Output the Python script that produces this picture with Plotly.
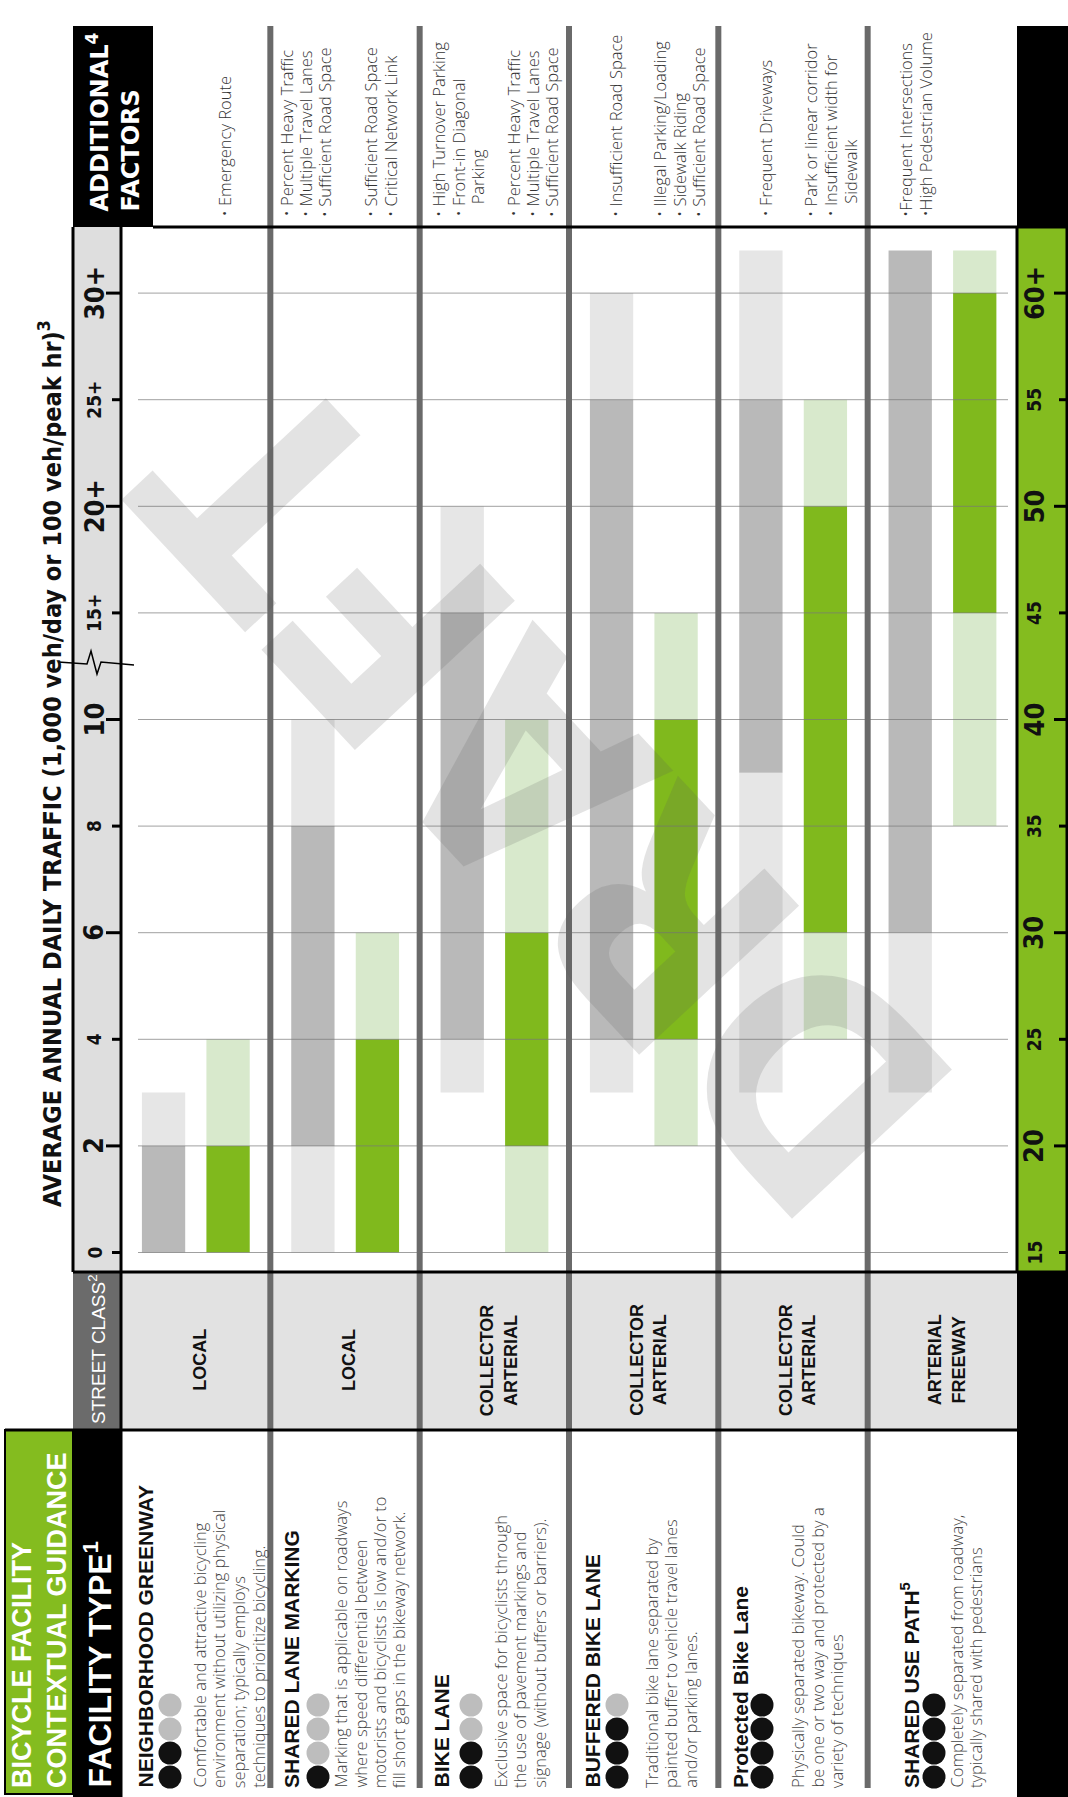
import plotly.graph_objects as go

W, H = 1068, 1797

# ---------------------------------------------------------------- data
FACILITIES = ["Neighborhood Greenway", "Shared Lane Marking", "Bike Lane",
              "Buffered Bike Lane", "Protected Bike Lane", "Shared Use Path"]

# Average annual daily traffic (1,000 veh/day): preferred range + extensions
ADT_LOW = [0, 2, 4, 4, 9, 6]
ADT_HIGH = [2, 8, 15, 25, 25, 32]
ADT_LOW_EXT = [None, 0, 3, 3, 3, 3]
ADT_HIGH_EXT = [3, 10, 20, 30, 32, None]

# Posted speed (mph): preferred range + extensions
SPEED_LOW = [15, 15, 20, 25, 30, 45]
SPEED_HIGH = [20, 25, 30, 40, 50, 60]
SPEED_LOW_EXT = [None, None, 15, 20, 25, 35]
SPEED_HIGH_EXT = [25, 30, 40, 45, 55, 62]

ADT_TICKS = [0, 2, 4, 6, 8, 10, 15, 20, 25, 30]
ADT_TICK_TEXT = ["0", "2", "4", "6", "8", "10", "15+", "20+", "25+", "30+"]
SPEED_TICKS = [15, 20, 25, 30, 35, 40, 45, 50, 55, 60]
SPEED_TICK_TEXT = ["15", "20", "25", "30", "35", "40", "45", "50", "55", "60+"]
MAJOR_ADT = [2, 6, 10, 20, 30]
MAJOR_SPEED = [20, 30, 40, 50, 60]

STREET_CLASS = ["LOCAL", "LOCAL", "COLLECTOR<br>ARTERIAL", "COLLECTOR<br>ARTERIAL",
                "COLLECTOR<br>ARTERIAL", "ARTERIAL<br>FREEWAY"]
RATING = [2, 1, 2, 3, 4, 4]
NAMES = ["NEIGHBORHOOD GREENWAY", "SHARED LANE MARKING", "BIKE LANE",
         "BUFFERED BIKE LANE", "Protected Bike Lane", "SHARED USE PATH<sup>5</sup>"]
DESCRIPTIONS = [
    ["Comfortable and attractive bicycling", "environment without utilizing physical",
     "separation; typically employs", "techniques to prioritize bicycling."],
    ["Marking that is applicable on roadways", "where speed differential between",
     "motorists and bicyclists is low and/or to", "fill short gaps in the bikeway network."],
    ["Exclusive space for bicyclists through", "the use of pavement markings and",
     "signage (without buffers or barriers)."],
    ["Traditional bike lane separated by", "painted buffer to vehicle travel lanes",
     "and/or parking lanes."],
    ["Physically separated bikeway. Could", "be one or two way and protected by a",
     "variety of techniques"],
    ["Completely separated from roadway,", "typically shared with pedestrians"],
]
NB = "\u00a0\u00a0\u00a0"
FACTORS = [
    [["• Emergency Route"]],
    [["• Percent Heavy Traffic", "• Multiple Travel Lanes", "• Sufficient Road Space"],
     ["• Sufficient Road Space", "• Critical Network Link"]],
    [["• High Turnover Parking", "• Front-in Diagonal", NB + "Parking"],
     ["• Percent Heavy Traffic", "• Multiple Travel Lanes", "• Sufficient Road Space"]],
    [["• Insufficient Road Space"],
     ["• Illegal Parking/Loading", "• Sidewalk Riding", "• Sufficient Road Space"]],
    [["• Frequent Driveways"],
     ["• Park or linear corridor", "• Insufficient width for", NB + "Sidewalk"]],
    [["•Frequent Intersections", "•High Pedestrian Volume"]],
]

# ---------------------------------------------------------------- styling
GRAY_DARK = "#b9b9b9"
GRAY_LIGHT = "#e6e6e6"
GREEN_DARK = "#80b91d"
GREEN_LIGHT = "#d8e9cc"
GREEN_HEAD = "#84bc1f"
PANEL = "#e2e2e2"
AXIS_PANEL = "#dedede"
SEP = "#6a6a6a"

NARROW = "Liberation Sans Narrow, Arial Narrow, DejaVu Sans Condensed, sans-serif"
BOLD = "Liberation Sans, Arial, sans-serif"
WIDE = "DejaVu Sans, Verdana, sans-serif"
LIGHT = "Open Sans, Lato, sans-serif"

# page layout (pixels)
CHART_L, CHART_R = 121, 1017
CHART_T, CHART_B = 227, 1272
CLASS_B = 1430
BAND_W = (CHART_R - CHART_L) / 6
BAND_EDGES = [CHART_L + i * BAND_W for i in range(7)]
NAME_X = [145, 291, 441, 592, 740, 910]
DOT_X = [170, 318, 471, 617, 762, 934]
DESC_X0 = [199, 340, 500, 651, 797, 956]
FACTOR_X0 = [[224], [286, 371], [439, 513], [616, 660], [765, 811], [906]]
LINE_STEP = 19.6


def fx(p):
    return p / W


def fy(p):
    return 1 - p / H


def adt_pos(v):
    return v / 2 if v <= 10 else 5 + (v - 10) / 5


def speed_pos(v):
    return (v - 15) / 5


# y range expressed in tick-position units (one unit per labelled tick)
TICK_PX = 106.6
ZERO_PX = 1252.5
Y_RANGE = [(ZERO_PX - CHART_B) / TICK_PX, (ZERO_PX - CHART_T) / TICK_PX]

fig = go.Figure()

BAR_W = 0.29
GRAY_OFF = -0.36
GREEN_OFF = 0.072


def add_bars(lo, hi, pos, color, offset):
    base, length = [], []
    for a, b in zip(lo, hi):
        if a is None or b is None:
            base.append(None)
            length.append(None)
        else:
            base.append(pos(a))
            length.append(pos(b) - pos(a))
    fig.add_trace(go.Bar(x=FACILITIES, y=length, base=base, width=BAR_W,
                         offset=offset, marker=dict(color=color, line_width=0),
                         hoverinfo="skip"))


add_bars(ADT_LOW_EXT, ADT_LOW, adt_pos, GRAY_LIGHT, GRAY_OFF)
add_bars(ADT_HIGH, ADT_HIGH_EXT, adt_pos, GRAY_LIGHT, GRAY_OFF)
add_bars(ADT_LOW, ADT_HIGH, adt_pos, GRAY_DARK, GRAY_OFF)
add_bars(SPEED_LOW_EXT, SPEED_LOW, speed_pos, GREEN_LIGHT, GREEN_OFF)
add_bars(SPEED_HIGH, SPEED_HIGH_EXT, speed_pos, GREEN_LIGHT, GREEN_OFF)
add_bars(SPEED_LOW, SPEED_HIGH, speed_pos, GREEN_DARK, GREEN_OFF)

shapes = []
annotations = []


def rect(x0, y0, x1, y1, fill, lw=0, lc="black", layer="above", kind="rect"):
    shapes.append(dict(type=kind, xref="paper", yref="paper",
                       x0=fx(x0), x1=fx(x1), y0=fy(y1), y1=fy(y0),
                       fillcolor=fill, line=dict(width=lw, color=lc), layer=layer))


def line(x0, y0, x1, y1, color="black", width=3, layer="above"):
    shapes.append(dict(type="line", xref="paper", yref="paper",
                       x0=fx(x0), x1=fx(x1), y0=fy(y0), y1=fy(y1),
                       line=dict(color=color, width=width), layer=layer))


def text(x, y, s, size, color="#111", family=LIGHT, weight="normal", angle=-90,
         xanchor="center", yanchor="middle", align="left"):
    annotations.append(dict(x=fx(x), y=fy(y), xref="paper", yref="paper", text=s,
                            showarrow=False, textangle=angle, xanchor=xanchor,
                            yanchor=yanchor, align=align,
                            font=dict(family=family, size=size, color=color,
                                      weight=weight)))


# panels
rect(73, 26, 153, CHART_T, "black")
rect(CHART_R, 26, W, CHART_T, "black")
rect(CHART_R, CHART_T, W, CHART_B, GREEN_HEAD)
rect(CHART_R, CHART_B, W, H, "black")
rect(73, CHART_T, CHART_L, CHART_B, AXIS_PANEL)
rect(73, CHART_B, CHART_L, CLASS_B, "#6b6b6b")
rect(CHART_L, CHART_B, CHART_R, CLASS_B, PANEL)
rect(73, CLASS_B, CHART_L, H, "black")
rect(5, CLASS_B, 73, 1794, GREEN_HEAD, lw=2)

# gridlines at every labelled tick
for v in ADT_TICKS:
    shapes.append(dict(type="line", xref="paper", yref="y", x0=fx(138), x1=fx(1008),
                       y0=adt_pos(v), y1=adt_pos(v),
                       line=dict(color="rgba(120,120,120,0.7)", width=1), layer="above"))

# band separators
for xe in BAND_EDGES[1:-1]:
    line(xe, 26, xe, 1788, color=SEP, width=6)

# black frame lines
line(153, CHART_T, W, CHART_T)
line(73, CHART_T, 73, CHART_B)
line(73, CHART_B, W, CHART_B)
line(5, CLASS_B, CHART_R, CLASS_B)
line(CHART_L, CHART_T, CHART_L, H)
line(CHART_R, CHART_T, CHART_R, CHART_B)
line(W - 1, CHART_T, W - 1, CHART_B)

# axis ticks
for v in ADT_TICKS:
    x0 = 106 if v in MAJOR_ADT else 112
    shapes.append(dict(type="line", xref="paper", yref="y", x0=fx(x0), x1=fx(CHART_L),
                       y0=adt_pos(v), y1=adt_pos(v), line=dict(color="black", width=3),
                       layer="above"))
for v in SPEED_TICKS:
    x1 = 1054 if v in MAJOR_SPEED else 1059
    shapes.append(dict(type="line", xref="paper", yref="y", x0=fx(x1), x1=fx(W - 2),
                       y0=speed_pos(v), y1=speed_pos(v), line=dict(color="black", width=3),
                       layer="above"))

# axis break mark between 10 and 15+
brk = [(58, 662), (87, 664), (91, 651), (97, 674), (101, 662), (134, 665)]
path = "M " + " L ".join(f"{fx(a):.5f},{fy(b):.5f}" for a, b in brk)
shapes.append(dict(type="path", xref="paper", yref="paper", path=path,
                   line=dict(color="black", width=1.5), layer="above"))

# rating dots
DOT_D = 23
for i, n in enumerate(RATING):
    for k in range(4):
        cy = 1777 - 24 * k
        rect(DOT_X[i] - DOT_D / 2, cy - DOT_D / 2, DOT_X[i] + DOT_D / 2, cy + DOT_D / 2,
             "#111" if k < n else "#bdbdbd", kind="circle")

# axis labels
for v, t in zip(ADT_TICKS, ADT_TICK_TEXT):
    big = v in MAJOR_ADT
    annotations.append(dict(x=fx(94), y=adt_pos(v), xref="paper", yref="y", text=t,
                            showarrow=False, textangle=-90, xanchor="center",
                            yanchor="middle",
                            font=dict(family=NARROW, size=27 if big else 19, color="#111",
                                      weight="bold")))
for v, t in zip(SPEED_TICKS, SPEED_TICK_TEXT):
    big = v in MAJOR_SPEED
    annotations.append(dict(x=fx(1034), y=speed_pos(v), xref="paper", yref="y", text=t,
                            showarrow=False, textangle=-90, xanchor="center",
                            yanchor="middle",
                            font=dict(family=NARROW, size=27 if big else 19, color="#111",
                                      weight="bold")))

text(50, 764, "AVERAGE ANNUAL DAILY TRAFFIC (1,000 veh/day or 100 veh/peak hr)<sup>3</sup>",
     25, family=NARROW, weight="bold")

# headers
text(113, 214, "ADDITIONAL<sup>4</sup><br>FACTORS", 24, color="white", family=WIDE,
     weight="bold", yanchor="bottom")
text(97, 1426, "STREET CLASS<sup>2</sup>", 19, color="white", family=BOLD, yanchor="bottom")
text(97, 1790, "FACILITY TYPE<sup>1</sup>", 32, color="white", family=BOLD, weight="bold",
     yanchor="bottom")
text(39, 1790, "BICYCLE FACILITY<br>CONTEXTUAL GUIDANCE", 27, color="white", family=BOLD,
     weight="bold", yanchor="bottom")

# per-facility text
for i in range(6):
    cx = (BAND_EDGES[i] + BAND_EDGES[i + 1]) / 2 + 4
    text(cx, 1360, STREET_CLASS[i], 18, family=BOLD, weight="bold", align="center")
    text(NAME_X[i], 1790, NAMES[i], 21, family=BOLD, weight="bold", yanchor="bottom")
    for j, ln in enumerate(DESCRIPTIONS[i]):
        text(DESC_X0[i] + j * LINE_STEP, 1790, ln, 16.5, color="#444", weight=300,
             yanchor="bottom")
    for x0, group in zip(FACTOR_X0[i], FACTORS[i]):
        for j, ln in enumerate(group):
            text(x0 + j * LINE_STEP, 219, ln, 16.5, color="#333", weight=300,
                 yanchor="bottom")

# DRAFT watermark across the chart
annotations.append(dict(x=fx(549), y=fy(790), xref="paper", yref="paper", text="DRAFT",
                        showarrow=False, textangle=-133,
                        font=dict(family="DejaVu Sans Condensed, DejaVu Sans, sans-serif",
                                  size=300, color="rgba(90,90,90,0.17)", weight="bold")))

fig.update_layout(
    width=W, height=H, margin=dict(l=0, r=0, t=0, b=0),
    paper_bgcolor="white", plot_bgcolor="rgba(0,0,0,0)",
    barmode="overlay", showlegend=False,
    xaxis=dict(domain=[fx(CHART_L), fx(CHART_R)], range=[-0.5, 5.5], visible=False,
               type="category", fixedrange=True),
    yaxis=dict(domain=[fy(CHART_B), fy(CHART_T)], range=Y_RANGE, visible=False,
               fixedrange=True),
    shapes=shapes, annotations=annotations,
)

fig.write_html("out.html")
